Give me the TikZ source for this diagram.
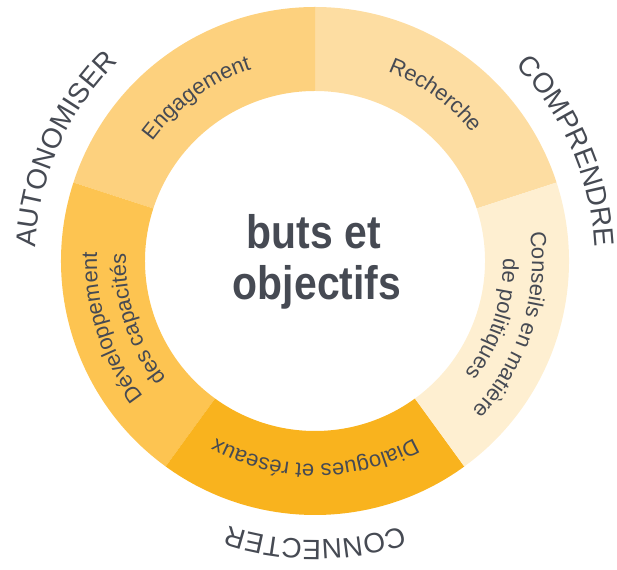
\documentclass[tikz,border=0pt]{standalone}
\usepackage{fontspec}
\setmainfont{Liberation Sans}
\usetikzlibrary{decorations.text}
\definecolor{txt}{HTML}{464A53}
\definecolor{cEng}{HTML}{FDD17E}
\definecolor{cRec}{HTML}{FDDDA2}
\definecolor{cCon}{HTML}{FEEFD1}
\definecolor{cDia}{HTML}{F9B31E}
\definecolor{cDev}{HTML}{FDC451}
\newcommand\segfont{\fontsize{22}{22}\selectfont}
\newcommand\outfont{\fontsize{28}{28}\selectfont}
\begin{document}
\begin{tikzpicture}[x=1pt,y=1pt,
  arclabel/.style={decorate, decoration={text along path, text align=center, text color=txt, text={#1}}},
  centertext/.style={font=\bfseries\fontsize{47}{47}\selectfont, text=txt, anchor=base, inner sep=0pt}]
\useasboundingbox (0,0) rectangle (617,569);
\coordinate (c) at (315,308);
% ring segments
\foreach \s/\e/\col in {18/90/cRec, 90/162/cEng, 162/234/cDev, 234/306/cDia, 306/378/cCon}{
  \fill[\col, shift={(c)}] (\s:254) arc[start angle=\s, end angle=\e, radius=254]
     -- (\e:170) arc[start angle=\e, end angle=\s, radius=170] -- cycle;
}
% segment labels
\path[arclabel={|\segfont|Engagement}, shift={(c)}] (186:202) arc[start angle=186, end angle=66, radius=202];
\path[arclabel={|\segfont|Recherche}, shift={(c)}] (114:203) arc[start angle=114, end angle=-6, radius=203];
\path[arclabel={|\segfont|Conseils en matière}, shift={(c)}] (42:217) arc[start angle=42, end angle=-78, radius=217];
\path[arclabel={|\segfont|de politiques}, shift={(c)}] (42:188) arc[start angle=42, end angle=-78, radius=188];
\path[arclabel={|\segfont|Dialogues et réseaux}, shift={(c)}] (-30:203) arc[start angle=-30, end angle=-150, radius=203];
\path[arclabel={|\segfont|Développement}, shift={(c)}] (258:218) arc[start angle=258, end angle=138, radius=218];
\path[arclabel={|\segfont|des capacités}, shift={(c)}] (258:189) arc[start angle=258, end angle=138, radius=189];
% outer labels
\path[arclabel={|\outfont|AUTONOMISER}, shift={(c)}] (226:280) arc[start angle=226, end angle=86, radius=280];
\path[arclabel={|\outfont|COMPRENDRE}, shift={(c)}] (93.5:280) arc[start angle=93.5, end angle=-46.5, radius=280];
\path[arclabel={|\outfont|CONNECTER}, shift={(c)}] (-20:279) arc[start angle=-20, end angle=-160, radius=279];
% centre
\node[centertext] (t1) at (314,320) {\scalebox{0.87}[1]{buts et}};
\node[centertext] (t2) at (317,269) {\scalebox{0.87}[1]{objectifs}};
\end{tikzpicture}
\end{document}
